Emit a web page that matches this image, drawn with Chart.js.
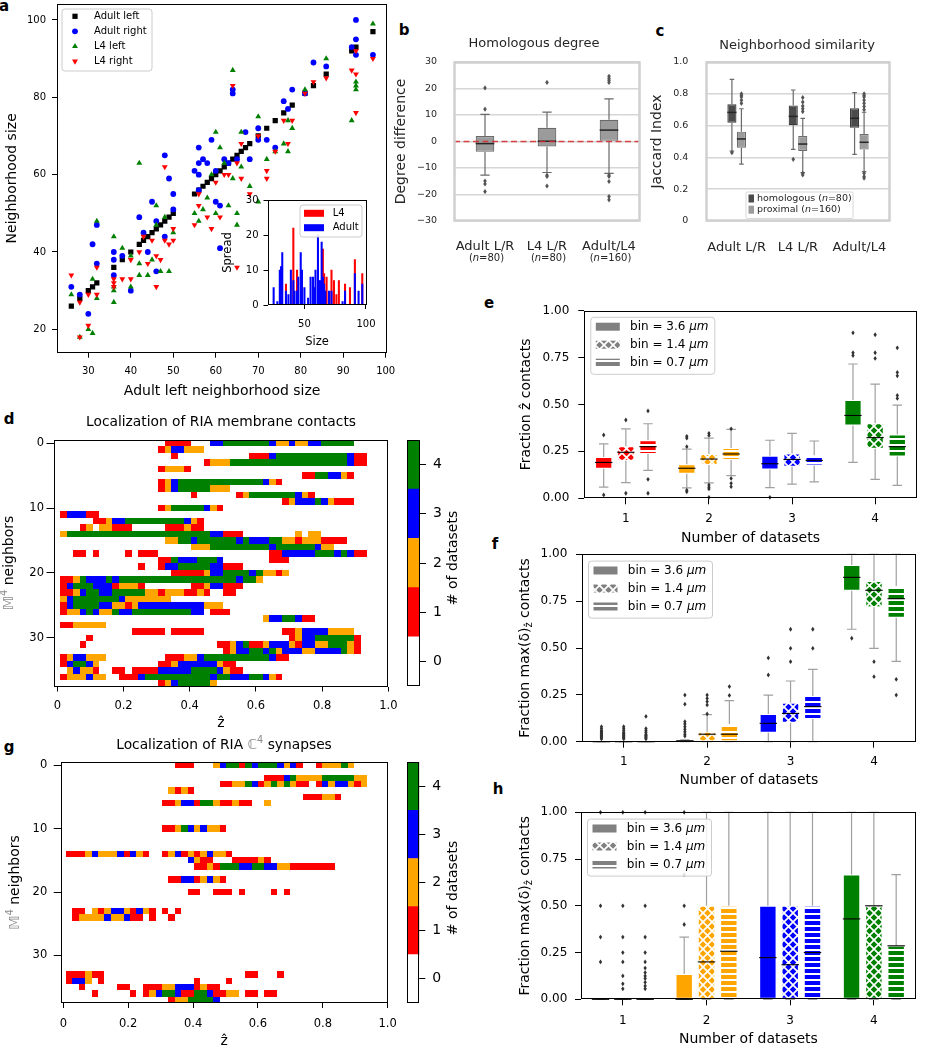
<!DOCTYPE html>
<html>
<head>
<meta charset="utf-8">
<script src="https://cdn.jsdelivr.net/npm/chart.js@4.4.1/dist/chart.umd.min.js"></script>
<style>
  html, body { margin: 0; padding: 0; background: #fff; }
  body { position: relative; width: 928px; height: 1050px; overflow: hidden; }
  canvas { position: absolute; }
  .tag { position: absolute; font: bold 15px "DejaVu Sans", sans-serif; line-height: 15px; transform: translate(-50%, -50%); }
</style>
</head>
<body>
<div class="tag" style="left:4px;top:6px">a</div>
<div class="tag" style="left:404px;top:30px">b</div>
<div class="tag" style="left:660px;top:31px">c</div>
<div class="tag" style="left:9px;top:419px">d</div>
<div class="tag" style="left:489px;top:303px">e</div>
<div class="tag" style="left:495px;top:544px">f</div>
<div class="tag" style="left:9px;top:747px">g</div>
<div class="tag" style="left:498px;top:789px">h</div>
<script>
// ---------- panel a: neighbourhood size ----------
const adultLeftSize = [26,28,30,31,32,36,38,40,42,43,44,45,46,47,48,49,50,55,56,57,58,59,60,61,62,63,64,65,66,67,68,70,72,74,76,78,81,83,86,92,93,97];
// [adult left size, size in other dataset]
const adultRight = [[26,31],[28,29],[30,24],[31,42],[32,47],[32,37],[36,40],[36,38],[36,34],[38,39],[40,30],[42,49],[43,45],[44,40],[45,53],[46,48],[46,35],[48,65],[48,44],[49,59],[50,55],[50,51],[55,61],[56,67],[56,63],[56,60],[56,56],[57,64],[58,63],[59,69],[60,53],[60,61],[61,52],[61,41],[62,64],[63,63],[64,81],[64,82],[65,64],[67,71],[68,64],[70,72],[70,69],[72,69],[74,67],[76,79],[77,77],[78,82],[81,81],[83,89],[86,88],[92,93],[93,100],[93,95],[93,91],[97,91]];
const l4Left = [[26,29],[28,18],[30,20],[31,19],[31,33],[32,48],[32,28],[36,44],[36,31],[36,30],[36,27],[38,41],[40,39],[40,31],[42,63],[42,37],[42,34],[44,34],[45,38],[46,52],[46,47],[47,35],[48,49],[49,35],[50,45],[55,50],[56,48],[57,51],[58,54],[59,60],[60,71],[60,50],[61,67],[62,63],[63,52],[64,87],[64,59],[65,50],[65,47],[66,71],[66,62],[68,57],[70,75],[70,53],[72,64],[74,66],[76,68],[77,66],[77,74],[78,72],[81,82],[86,90],[92,74],[93,84],[93,83],[93,82],[97,99]];
const l4Right = [[26,34],[28,27],[28,18],[30,29],[30,21],[32,36],[32,29],[36,33],[36,32],[36,31],[38,33],[40,38],[40,33],[42,40],[43,44],[44,37],[45,43],[46,39],[46,31],[47,38],[48,62],[48,43],[49,42],[50,46],[50,43],[55,47],[56,55],[56,52],[58,49],[59,46],[60,58],[61,49],[62,60],[63,60],[64,83],[65,63],[65,36],[66,68],[66,59],[68,55],[70,70],[72,61],[72,59],[74,66],[76,74],[77,68],[78,74],[81,81],[83,84],[86,85],[92,87],[93,86],[93,92],[93,76],[97,90]];
// inset: [size, spread]
const spreadL4 = [[35,6],[41,22],[44,10],[65,16],[66,9],[68,8],[72,10],[74,7],[76,3],[78,7],[83,6],[87,5],[91,13],[97,9]];
const spreadAdult = [[25,5],[28,1],[30,10],[31,11],[32,15],[35,4],[37,3],[39,10],[41,7],[42,4],[44,4],[45,8],[47,15],[48,10],[50,5],[53,2],[55,8],[57,8],[58,5],[59,10],[61,20],[62,7],[63,7],[64,18],[65,8],[66,6],[67,4],[70,4],[72,4],[81,1],[83,4],[91,9],[94,4],[97,6]];

// ---------- panels b, c ----------
const pairLabels = ['Adult L/R', 'L4 L/R', 'Adult/L4'];
const pairCounts = ['80', '80', '160'];
// [whisker low, Q1, median, Q3, whisker high]
const degreeDiff = [[-12.7,-3.9,-0.8,2.1,10.2],[-11.7,-1.9,0.1,5.2,11.1],[-12,0,4.3,8.2,16.1]];
const degreeOut = [[20.2,12.2,-14.9,-16,-18.9],[22.3,-12.7,-13.2,-16.8],[24.6,23.8,23.1,22.3,-12.7,-13.2,-15.1,-20.8,-22]];
const jaccardNames = ['homologous', 'proximal'];
const jaccardCounts = ['80', '160'];
const jaccardHom = [[0.44,0.618,0.683,0.734,0.891],[0.451,0.602,0.658,0.727,0.824],[0.419,0.587,0.646,0.709,0.807]];
const jaccardHomOut = [[0.43],[0.388],[]];
const jaccardProx = [[0.358,0.461,0.516,0.562,0.706],[0.304,0.44,0.484,0.535,0.646],[0.31,0.449,0.495,0.547,0.684]];
const jaccardProxOut = [[0.8,0.79,0.78,0.76,0.74],[0.776,0.748,0.723,0.706,0.688,0.3,0.29],[0.8,0.79,0.78,0.76,0.74,0.72,0.7,0.3,0.28,0.27]];

// ---------- panels d, g: heat maps (row = neighbor, "col-col:count") ----------
const zEdge0 = -0.0116, zBin = 0.01974;
const membraneRows = [
  "17-20:1 24-25:3 26-32:4 33:3 34-35:2 36:3 37-38:2 39-40:3 41-45:4",
  "16:1 17:2 18-19:3 20-22:2",
  "18:1 30-32:1 33:3 34-44:4 45:3 46-47:1",
  "23:1 24-26:2 27-44:4 45:3 46-47:1",
  "16:1 17-19:2 20:1",
  "38-39:1 40-41:4 42-43:3 44:2 45:1",
  "16:1 17:2 18:3 19-31:4 32:3 33:2 34:1",
  "16:1 17:2 18:3 19-23:4 24-26:2",
  "21:1 28:1 29:2 30-36:4 37:3 38:2 39:1",
  "35:1 36:2 37-39:3 40:4 41:3 42:2 43-45:1",
  "16:1 17:2 18-22:4 23:3 24:2 25:1",
  "1:1 2-4:3 5-6:1",
  "6-7:1 8:2 9-10:3 11-19:4 20:3 21:2 22:1",
  "4:1 5:2 7-8:2 9-11:1 17-19:1 20:2 21-22:1",
  "1:2 2-23:4 24-25:3 26-28:1 37:2 39-40:2",
  "17-18:2 19-20:4 21:3 22-27:4 28:3 29:4 30-32:3 33-34:4 35-36:2 37:1 38-40:2 41-44:1",
  "21-23:2 24-32:4 33:3 34-39:4 40:3 41-42:2",
  "3-4:1 6:1 11:1 13-15:1 33-34:1 35-39:3 40-42:4 43:3 44:4 45:3 46-47:1",
  "16-17:1 18:4 19-21:3 22-24:4 25:3 33-35:1",
  "13:1 16:1 17-18:3 19-23:4 24-25:3 26-28:1",
  "18-22:1 23:2 24-25:3 26-29:4 30:3 31:4 32-33:2 34:1 35:2",
  "1-2:1 3:2 4:4 5-7:3 8:4 9:3 10-27:4 28:3 29-30:4 31:2",
  "1:1 2:3 3-5:4 6-8:3 9:1 10-12:2 13:1 21-22:1 23:2 24-25:3 26-28:1",
  "1-2:1 3:2 4:3 5-6:4 7-8:3 9-13:4 14-15:2 16:1 17-19:2 20-21:1 22:2 23:1 26-27:1",
  "1:2 2:3 3-9:4 10:3 11-17:2",
  "1:1 2:3 3-6:4 7-8:3 9-10:2 11:1 12:2 13-22:3 23-25:2",
  "1:1 2-3:2 4:3 5:4 6:3 7-8:2 9:4 10-11:3 12-20:4 21-22:3 24-26:1",
  "32:2 33-34:3 35-36:4 37:3 38-39:1",
  "1-2:1 3-7:2",
  "12-16:1 18-22:1 35-36:1 37:2 38-41:3 42-45:2",
  "5:1 36:1 37:2 38-39:3 40-45:4 46:1",
  "4:1 25-26:1 27:2 28:3 29:4 30-31:1 32:2 33-35:3 36:2 37:1 38-39:3 40-41:2 42-44:4 45:2 46:1",
  "26:1 27:2 28-29:3 30-31:4 32:3 33:4 34:2 35-37:3 38-39:2 40-43:3 44:4 45:2 46:1",
  "1:1 2:2 3-4:3 5-7:2 17-19:1 20-21:2 22:3 23-32:4 33:3 34-35:1",
  "1:1 2:3 3-4:4 5:3 6:2 16-17:1 18:2 19-24:3 25:2 26-27:1",
  "2:2 3:3 4-5:2 6:1 9-10:1 12-15:1 16-20:3 21-24:4 25:3 26:2 27-28:1",
  "1:1 2-4:2 5:3 6-7:2 10-12:1 13:3 14-23:4 24:3 25-26:4 27-29:3 30-31:4 32:3 33:2 34:1",
  "16:1 17:2 18:3 19-23:4 24:2"
];
const synapseRows = [
  "18-20:1 24:2 25:3 26-27:4 28:1 29:4 30:3 31-33:4 34:3 35:2 36:3 37:1 40:1 41-43:2 44:4 45:2",
  "",
  "32-34:1 35:3 36:4 37-40:2 41-45:4 46-47:2",
  "25-26:1 27-28:2 29:4 30:3 31:1 32:2 33:4 34:2 35:4 36:2 37-38:1 40:1 41:3 42:2 43-44:3 45:2 46:1 47:2",
  "17:2 18:1 19:2 20:1",
  "38-40:1 41-42:2 43:1",
  "16-17:1 18:2 19-20:3 21:1 22-23:4 24:2 25-26:1 27:2 28-29:1 32:2",
  "", "", "",
  "16-17:1 18:2 19:4 20:3 21:2 22:3 23-24:2 25:1",
  "", "", "",
  "1-3:1 4:2 5:3 6-8:2 9:3 10:1 11:3 12:2 13:1 16:1 17:2 18:3 19:1 20:2 21:1 22:2 23:3 24-25:2 26:1",
  "20:3 21:2 22-23:1 27-30:1 31:2 32:1",
  "21-22:1 23:2 24:1 25-27:4 28-29:3 30-31:4 32-33:3 34-35:2 36-42:1",
  "",
  "17-18:1 19-20:3 21:1 22:2 23:3 24:2 25:1",
  "",
  "20-21:1 24-26:1 28:1 33:1 35:1",
  "", "",
  "2-3:1 5:2 6:1 7:2 8-9:3 10:2 11:1 12:3 13:2 14:1 16:1 18:1",
  "2:1 3-6:2 7:3 8-9:2 10:3 11-12:1 14:1 17:1",
  "", "", "", "", "", "", "", "",
  "1-3:1 4:2 5-6:1 29-30:1 34:1",
  "1:1 2-3:3 4:2 6:1 21:1 26:1",
  "3:1 9-10:1 13-15:1 16-17:2 18-20:3 21:1 22:2 23-24:1",
  "5:1 11:1 13:1 14:2 15:3 16-17:4 18:3 19-20:1 21-22:4 23:3 24-25:1 26-27:2 29-30:1 32-33:1",
  "17:1 18-19:2 20-23:4 24:3"
];
const countColors = ['#ffffff', '#ff0000', '#ffa500', '#0000ff', '#008000'];
const zTicks = [0, 0.2, 0.4, 0.6, 0.8, 1.0];

// ---------- panels e, f, h ----------
const datasetCounts = ['1', '2', '3', '4'];
const binSizes = ['3.6', '1.4', '0.7'];
const eBin36 = [[0.059,0.158,0.191,0.22,0.29],[0.055,0.131,0.16,0.181,0.262],[0.057,0.154,0.184,0.227,0.309],[0.191,0.388,0.441,0.523,0.715]];
const eBin14 = [[0.083,0.2,0.245,0.277,0.37],[0.082,0.177,0.209,0.236,0.32],[0.076,0.168,0.207,0.239,0.346],[0.101,0.264,0.323,0.399,0.608]];
const eBin07 = [[0.149,0.236,0.275,0.309,0.397],[0.121,0.204,0.236,0.268,0.367],[0.087,0.174,0.202,0.229,0.305],[0.069,0.223,0.275,0.34,0.496]];
const eOut36 = [[0.337,0.018],[0.33,0.32,0.275,0.043,0.035],[0.005],[0.881,0.775,0.76]];
const eOut14 = [[0.417,0.027],[0.346,0.335,0.071,0.059,0.05,0.005],[],[0.871,0.775,0.745]];
const eOut07 = [[0.465,0.101,0.027],[0.37,0.106,0.08,0.062],[],[0.801,0.67,0.652,0.548,0.532]];
const fBin36 = [[0,0,0,0,0],[0,0,0.005,0.008,0.01],[0,0.048,0.098,0.148,0.249],[0.6,0.806,0.877,0.943,1]];
const fBin14 = [[0,0,0,0,0],[0,0,0.04,0.053,0.144],[0,0.101,0.151,0.208,0.324],[0.498,0.717,0.808,0.858,1]];
const fBin07 = [[0,0,0,0,0],[0,0,0.04,0.094,0.219],[0,0.121,0.187,0.244,0.386],[0.429,0.662,0.763,0.831,1]];
const fOut36 = [[0.08,0.07,0.06,0.055,0.05,0.045,0.04,0.035,0.03,0.025,0.02,0.015],[0.249,0.2,0.107,0.094,0.08,0.066,0.053,0.04,0.03],[0.447,0.356],[0.552]];
const fOut14 = [[0.08,0.07,0.06,0.05,0.045,0.04,0.035,0.03,0.025,0.02,0.015],[0.249,0.231,0.214,0.196,0.148],[0.6,0.498,0.427],[0.427,0.347]];
const fOut07 = [[0.135,0.07,0.06,0.05,0.04,0.035,0.03,0.025,0.02,0.015],[0.294,0.247],[0.6,0.498],[0.333,0.249]];
const hBin36 = [[0,0,0,0,0],[0,0,0,0.135,0.333],[0,0,0.223,0.5,1],[0,0,0.43,0.667,1]];
const hBin14 = [[0,0,0,0,0],[0,0,0.2,0.5,1],[0,0,0.185,0.5,1],[0,0,0.5,0.5,1]];
const hBin07 = [[0,0,0,0,0],[0,0,0.257,0.5,1],[0,0,0.25,0.5,1],[0,0,0.286,0.286,0.667]];
const hOut36 = [[1,0.5,0.333,0.2],[1,0.667,0.5,0.4],[],[]];
const hOut14 = [[1,0.5,0.333,0.25,0.2,0.125,0.083,0.056],[],[],[]];
const hOut07 = [[1,0.5,0.333,0.25,0.2,0.167,0.143,0.125,0.111,0.091,0.071,0.056],[],[],[]];
const groupColors = ['#ff0000', '#ffa500', '#0000ff', '#008000'];
const hatchKinds = ['solid', 'x', 'line'];

// ---------- setup ----------
const FONT = '"DejaVu Sans", sans-serif';
Chart.defaults.font.family = FONT;
Chart.defaults.color = '#000';
Chart.defaults.animation = false;
Chart.defaults.responsive = false;
Chart.defaults.maintainAspectRatio = false;
Chart.defaults.events = [];
Chart.defaults.plugins.legend.display = false;
Chart.defaults.plugins.tooltip.enabled = false;

function makeCanvas(box) {
  const c = document.createElement('canvas');
  c.width = box[2]; c.height = box[3];
  c.style.left = box[0] + 'px'; c.style.top = box[1] + 'px';
  c.style.width = box[2] + 'px'; c.style.height = box[3] + 'px';
  document.body.appendChild(c);
  return c;
}

// box = canvas [x, y, w, h], area = plot [left, top, right, bottom], page px
function place(box, area, cfg) {
  const o = cfg.options;
  o.layout = { padding: { left: 0, top: area[1] - box[1], right: box[0] + box[2] - area[2], bottom: 0 } };
  o.scales.x.afterFit = s => { s.height = box[1] + box[3] - area[3]; s.paddingLeft = 0; s.paddingRight = 0; };
  o.scales.y.afterFit = s => { s.width = area[0] - box[0]; s.paddingTop = 0; s.paddingBottom = 0; };
  return new Chart(makeCanvas(box), cfg);
}

function axis(o) {
  const ax = {
    type: o.type || 'linear',
    position: o.pos,
    reverse: !!o.reverse,
    ticks: { font: { size: o.fs }, color: o.color || '#000', padding: o.pad, autoSkip: false, maxRotation: 0, minRotation: 0 },
    grid: { display: !o.noGrid, drawOnChartArea: !!o.gridOn, drawTicks: (o.tl || 0) > 0, tickLength: o.tl || 0,
            color: o.gridColor || '#000', lineWidth: o.gridW || 1, offset: false },
    border: { display: false },
    title: { display: false }
  };
  if (o.min !== undefined) ax.min = o.min;
  if (o.max !== undefined) ax.max = o.max;
  if (o.offset !== undefined) ax.offset = o.offset;
  if (o.ticks) ax.afterBuildTicks = s => { s.ticks = o.ticks.map(v => ({ value: v })); };
  if (o.fmt) ax.ticks.callback = o.fmt;
  if (o.title) ax.title = { display: true, text: o.title, color: o.color || '#000', font: { size: o.tfs }, padding: { top: o.tpad, bottom: o.tpad } };
  return ax;
}

// parts: [[text, flags]] flags: i italic, s subscript, p superscript, g gray
function richText(ctx, parts, x, y, size, opt = {}) {
  const fontFor = st => (st.includes('i') ? 'italic ' : '') + ((st.includes('s') || st.includes('p')) ? size * 0.7 : size) + 'px ' + FONT;
  ctx.save();
  ctx.translate(x, y);
  if (opt.rot) ctx.rotate(opt.rot);
  let total = 0;
  for (const [t, st = ''] of parts) { ctx.font = fontFor(st); total += ctx.measureText(t).width; }
  let cx = opt.align === 'left' ? 0 : opt.align === 'right' ? -total : -total / 2;
  ctx.textBaseline = 'middle'; ctx.textAlign = 'left';
  for (const [t, st = ''] of parts) {
    ctx.font = fontFor(st);
    ctx.fillStyle = st.includes('g') ? '#8c8c8c' : (opt.color || '#000');
    const dy = st.includes('s') ? size * 0.3 : st.includes('p') ? -size * 0.35 : 0;
    ctx.fillText(t, cx, dy);
    cx += ctx.measureText(t).width;
  }
  ctx.restore();
}

function textLayer(box, items) {
  return { id: 'texts', afterDraw(chart) {
    items.forEach(it => richText(chart.ctx, it.parts, it.x - box[0], it.y - box[1], it.size, it));
  } };
}

function frameLayer(color, width) {
  return { id: 'frame', afterDatasetsDraw(chart) {
    const { ctx, chartArea: a } = chart;
    const h = width % 2 ? 0.5 : 0;
    const l = Math.round(a.left) + h, t = Math.round(a.top) + h, r = Math.round(a.right) - h, b = Math.round(a.bottom) - h;
    ctx.save(); ctx.strokeStyle = color; ctx.lineWidth = width;
    ctx.strokeRect(l, t, r - l, b - t);
    ctx.restore();
  } };
}

function whiteArea() {
  return { id: 'white', beforeDraw(chart) {
    const { ctx, chartArea: a } = chart;
    ctx.save(); ctx.fillStyle = '#fff'; ctx.fillRect(a.left, a.top, a.right - a.left, a.bottom - a.top); ctx.restore();
  } };
}

function legendFrame(ctx, x, y, w, h, edge, r) {
  ctx.save();
  ctx.beginPath();
  if (ctx.roundRect) ctx.roundRect(x, y, w, h, r); else ctx.rect(x, y, w, h);
  ctx.fillStyle = 'rgba(255,255,255,0.85)'; ctx.fill();
  ctx.strokeStyle = edge; ctx.lineWidth = 1; ctx.stroke();
  ctx.restore();
}

function marker(ctx, style, r, rot, color, x, y) {
  ctx.save(); ctx.fillStyle = color; ctx.beginPath();
  if (style === 'rect') { const s = r * Math.SQRT1_2; ctx.rect(x - s, y - s, 2 * s, 2 * s); }
  else if (style === 'circle') ctx.arc(x, y, r, 0, Math.PI * 2);
  else {
    let a = (rot || 0) * Math.PI / 180;
    for (let k = 0; k < 3; k++) { const px = x + Math.sin(a) * r, py = y - Math.cos(a) * r; k ? ctx.lineTo(px, py) : ctx.moveTo(px, py); a += 2 * Math.PI / 3; }
    ctx.closePath();
  }
  ctx.fill(); ctx.restore();
}

function hatchFill(color, kind) {
  if (kind === 'solid') return color;
  const t = document.createElement('canvas');
  const s = kind === 'x' ? 9 : 6;
  t.width = s; t.height = s;
  const g = t.getContext('2d');
  g.fillStyle = color; g.fillRect(0, 0, s, s);
  g.strokeStyle = '#fff'; g.fillStyle = '#fff';
  if (kind === 'x') {
    g.lineWidth = 1.7;
    g.beginPath(); g.moveTo(-1, -1); g.lineTo(s + 1, s + 1); g.moveTo(s + 1, -1); g.lineTo(-1, s + 1); g.stroke();
  } else {
    g.fillRect(0, 0, s, 2);
  }
  return g.createPattern(t, 'repeat');
}

function boxLayer(stats, outs, st) {
  return { id: 'boxes', afterDatasetsDraw(chart) {
    const ctx = chart.ctx, ys = chart.scales.y;
    const py = v => ys.getPixelForValue(v);
    ctx.save();
    stats.forEach((group, di) => {
      const meta = chart.getDatasetMeta(di);
      group.forEach((s, i) => {
        const el = meta.data[i];
        const cx = el.x, hw = el.width / 2, cw = hw * st.cap;
        ctx.strokeStyle = st.whisker; ctx.lineWidth = st.lw;
        ctx.beginPath();
        ctx.moveTo(cx, py(s[3])); ctx.lineTo(cx, py(s[4]));
        ctx.moveTo(cx, py(s[1])); ctx.lineTo(cx, py(s[0]));
        ctx.moveTo(cx - cw, py(s[4])); ctx.lineTo(cx + cw, py(s[4]));
        ctx.moveTo(cx - cw, py(s[0])); ctx.lineTo(cx + cw, py(s[0]));
        ctx.stroke();
        ctx.strokeStyle = st.median; ctx.lineWidth = st.mw;
        ctx.beginPath(); ctx.moveTo(cx - hw, py(s[2])); ctx.lineTo(cx + hw, py(s[2])); ctx.stroke();
        ctx.fillStyle = st.flier;
        outs[di][i].forEach(v => {
          const y = py(v), r = st.fr;
          ctx.beginPath(); ctx.moveTo(cx, y - r); ctx.lineTo(cx + r * 0.7, y); ctx.lineTo(cx, y + r); ctx.lineTo(cx - r * 0.7, y); ctx.closePath(); ctx.fill();
        });
      });
    });
    ctx.restore();
  } };
}

function parseRow(str) {
  if (!str) return [];
  return str.trim().split(/\s+/).map(tok => {
    const [range, v] = tok.split(':');
    const [a, b] = range.split('-').map(Number);
    return [a, b === undefined ? a : b, Number(v)];
  });
}

function heatLayer(rows) {
  return { id: 'heat', beforeDatasetsDraw(chart) {
    const { ctx, chartArea: a, scales: { x, y } } = chart;
    ctx.save();
    ctx.beginPath(); ctx.rect(a.left, a.top, a.right - a.left, a.bottom - a.top); ctx.clip();
    rows.forEach((row, r) => parseRow(row).forEach(([c0, c1, v]) => {
      const x0 = Math.round(x.getPixelForValue(zEdge0 + c0 * zBin)), x1 = Math.round(x.getPixelForValue(zEdge0 + (c1 + 1) * zBin));
      const y0 = Math.round(y.getPixelForValue(r - 0.5)), y1 = Math.round(y.getPixelForValue(r + 0.5));
      ctx.fillStyle = countColors[v];
      ctx.fillRect(x0, y0, x1 - x0, y1 - y0);
    }));
    ctx.restore();
  } };
}

const seabornStyle = { whisker: '#6a6a6a', lw: 1.2, median: '#262626', mw: 1.5, flier: '#555555', fr: 2.6, cap: 0.5 };
const binStyle = { whisker: '#a0a0a0', lw: 1.2, median: '#000', mw: 1.1, flier: '#333333', fr: 2.4, cap: 0.55 };

// ---------- a: scatter ----------
place([0, 0, 400, 405], [57, 3, 387.3, 352.7], {
  type: 'scatter',
  data: { datasets: [
    { label: 'Adult left', data: adultLeftSize.map(s => ({ x: s, y: s })), pointStyle: 'rect', pointRadius: 3.7, backgroundColor: '#000', borderWidth: 0, order: 4 },
    { label: 'Adult right', data: adultRight.map(([x, y]) => ({ x, y })), pointStyle: 'circle', pointRadius: 2.9, backgroundColor: '#0000ff', borderWidth: 0, order: 3 },
    { label: 'L4 left', data: l4Left.map(([x, y]) => ({ x, y })), pointStyle: 'triangle', pointRadius: 3.4, backgroundColor: '#008000', borderWidth: 0, order: 2 },
    { label: 'L4 right', data: l4Right.map(([x, y]) => ({ x, y })), pointStyle: 'triangle', pointRotation: 180, pointRadius: 3.4, backgroundColor: '#ff0000', borderWidth: 0, order: 1 }
  ] },
  options: { scales: {
    x: axis({ min: 22.63, max: 100.38, ticks: [30,40,50,60,70,80,90,100], fs: 10, tl: 5, pad: 8, pos: 'bottom', title: 'Adult left neighborhood size', tfs: 14, tpad: 4.9 }),
    y: axis({ min: 13.96, max: 104.13, ticks: [20,40,60,80,100], fs: 10, tl: 5, pad: 6, pos: 'left', title: 'Neighborhood size', tfs: 14, tpad: 3.6 })
  } },
  plugins: [frameLayer('#000', 1), { id: 'aLegend', afterDraw(chart) {
    const ctx = chart.ctx, rows = [16.3, 31.3, 46.3, 61.3];
    legendFrame(ctx, 62, 9, 90, 62, '#cccccc', 3);
    chart.data.datasets.forEach((ds, i) => {
      marker(ctx, ds.pointStyle, ds.pointRadius, ds.pointRotation, ds.backgroundColor, 75, rows[i]);
      richText(ctx, [[ds.label]], 94, rows[i], 10, { align: 'left' });
    });
  } }]
});

const insetBox = [221, 195, 165, 155];
place(insetBox, [267.5, 200, 366.7, 305], {
  type: 'bar',
  data: { datasets: [
    { label: 'L4', data: spreadL4.map(([x, y]) => ({ x, y })), backgroundColor: '#ff0000', barThickness: 1.4, grouped: false, order: 1 },
    { label: 'Adult', data: spreadAdult.map(([x, y]) => ({ x, y })), backgroundColor: '#0000ff', barThickness: 1.4, grouped: false, order: 0 }
  ] },
  options: { scales: {
    x: axis({ type: 'linear', min: 20, max: 100.6, offset: false, ticks: [50, 100], fs: 10, tl: 4, pad: 9, pos: 'bottom', title: 'Size', tfs: 11.5, tpad: 0.8 }),
    y: axis({ min: 0, max: 30, ticks: [0, 10, 20, 30], fs: 10, tl: 4, pad: 5, pos: 'left', title: 'Spread', tfs: 11.5, tpad: 0.4 })
  } },
  plugins: [whiteArea(), frameLayer('#000', 1), { id: 'insetLegend', afterDraw(chart) {
    const ctx = chart.ctx, ox = insetBox[0], oy = insetBox[1], rows = [213.3, 227.7];
    legendFrame(ctx, 300 - ox, 205 - oy, 62, 32, '#cccccc', 3);
    chart.data.datasets.forEach((ds, i) => {
      ctx.fillStyle = ds.backgroundColor;
      ctx.fillRect(304 - ox, rows[i] - oy - 3.5, 20, 7);
      richText(ctx, [[ds.label]], 332.7 - ox, rows[i] - oy, 10, { align: 'left' });
    });
  } }]
});

// ---------- b: homologous degree ----------
const signed = v => (v < 0 ? '\u2212' + Math.abs(v) : String(v));
const bBox = [390, 30, 260, 245];
place(bBox, [454, 62, 640, 221], {
  type: 'bar',
  data: { labels: pairLabels, datasets: [{ data: degreeDiff.map(s => [s[1], s[3]]), backgroundColor: '#9b9b9b', borderColor: '#6a6a6a', borderWidth: 1.2, borderSkipped: false, categoryPercentage: 0.3, barPercentage: 1 }] },
  options: { scales: {
    x: axis({ type: 'category', offset: true, noGrid: true, fs: 13, pad: 18, pos: 'bottom', color: '#262626' }),
    y: axis({ min: -30, max: 30, ticks: [-30,-20,-10,0,10,20,30], fmt: signed, fs: 9.5, pad: 17, pos: 'left', gridOn: true, gridColor: '#d6d6d6', gridW: 1.6, color: '#262626', title: 'Degree difference', tfs: 14, tpad: 3.3 })
  } },
  plugins: [
    boxLayer([degreeDiff], [degreeOut], seabornStyle),
    { id: 'zero', afterDatasetsDraw(chart) {
      const { ctx, chartArea: a, scales: { y } } = chart, yy = y.getPixelForValue(0);
      ctx.save(); ctx.strokeStyle = 'rgba(214,39,40,0.85)'; ctx.lineWidth = 1.5; ctx.setLineDash([6, 3.5]);
      ctx.beginPath(); ctx.moveTo(a.left, yy); ctx.lineTo(a.right, yy); ctx.stroke(); ctx.restore();
    } },
    frameLayer('#d0d0d0', 2.5),
    { id: 'counts', afterDraw(chart) {
      const xs = chart.scales.x;
      pairCounts.forEach((n, i) => richText(chart.ctx, [['('], ['n', 'i'], ['=' + n + ')']], xs.getPixelForTick(i) + 1.5, 258.5 - bBox[1], 10, { color: '#262626' }));
    } },
    textLayer(bBox, [{ parts: [['Homologous degree']], x: 534, y: 43.3, size: 13, color: '#262626' }])
  ]
});

// ---------- c: neighborhood similarity ----------
const cBox = [645, 30, 270, 245];
place(cBox, [706, 62, 890, 221], {
  type: 'bar',
  data: { labels: pairLabels, datasets: [
    { data: jaccardHom.map(s => [s[1], s[3]]), backgroundColor: '#4b4b4b', borderColor: '#3a3a3a', borderWidth: 1.2, borderSkipped: false, categoryPercentage: 0.31, barPercentage: 0.96 },
    { data: jaccardProx.map(s => [s[1], s[3]]), backgroundColor: '#9c9c9c', borderColor: '#6e6e6e', borderWidth: 1.2, borderSkipped: false, categoryPercentage: 0.31, barPercentage: 0.96 }
  ] },
  options: { scales: {
    x: axis({ type: 'category', offset: true, noGrid: true, fs: 13, pad: 18.4, pos: 'bottom', color: '#262626' }),
    y: axis({ min: 0, max: 1, ticks: [0, 0.2, 0.4, 0.6, 0.8, 1], fmt: v => (v === 0 ? '0' : v.toFixed(1)), fs: 9.5, pad: 17.7, pos: 'left', gridOn: true, gridColor: '#d6d6d6', gridW: 1.6, color: '#262626', title: 'Jaccard Index', tfs: 14, tpad: 3.9 })
  } },
  plugins: [
    boxLayer([jaccardHom, jaccardProx], [jaccardHomOut, jaccardProxOut], seabornStyle),
    frameLayer('#d0d0d0', 2.5),
    { id: 'jLegend', afterDraw(chart) {
      const ctx = chart.ctx, ox = cBox[0], oy = cBox[1], rows = [198.5, 209.7];
      legendFrame(ctx, 746 - ox, 192 - oy, 107, 26.5, '#d8d8d8', 1);
      chart.data.datasets.forEach((ds, i) => {
        ctx.fillStyle = ds.backgroundColor;
        ctx.fillRect(748.5 - ox, rows[i] - oy - 4, 5.5, 8);
        richText(ctx, [[jaccardNames[i] + ' ('], ['n', 'i'], ['=' + jaccardCounts[i] + ')']], 757 - ox, rows[i] - oy, 9.5, { align: 'left', color: '#262626' });
      });
    } },
    textLayer(cBox, [{ parts: [['Neighborhood similarity']], x: 797, y: 45.7, size: 13, color: '#262626' }])
  ]
});

// ---------- d, g: heat maps with colour bars ----------
function heatChart(box, area, rows, xmin, yl, xpad, xtpad, texts) {
  return place(box, area, {
    type: 'scatter',
    data: { datasets: [{ data: [] }] },
    options: { scales: {
      x: axis({ min: xmin, max: 1, ticks: zTicks, fmt: v => (v === 0 ? '0' : v.toFixed(1)), fs: 11.5, tl: 5, pad: xpad, pos: 'bottom', title: 'ẑ', tfs: 14, tpad: xtpad }),
      y: axis({ min: -0.5, max: 37.5, reverse: true, ticks: [0, 10, 20, 30], fs: 11.5, tl: 7, pad: yl, pos: 'left' })
    } },
    plugins: [heatLayer(rows), frameLayer('#000', 1), textLayer(box, texts)]
  });
}

function colorBar(box, area, titleY) {
  const cfg = {
    type: 'bar',
    data: { labels: [''], datasets: countColors.map((c, v) => ({ data: [[v - 0.5, v + 0.5]], backgroundColor: c, borderWidth: 0, grouped: false, barPercentage: 1, categoryPercentage: 1 })) },
    options: {
      layout: { padding: { left: area[0] - box[0], top: area[1] - box[1], bottom: box[1] + box[3] - area[3], right: 0 } },
      scales: {
        x: { display: false },
        y: Object.assign(axis({ min: -0.5, max: 4.5, ticks: [0, 1, 2, 3, 4], fs: 14, tl: 6, pad: 7, pos: 'right' }),
          { afterFit: s => { s.width = box[0] + box[2] - area[2]; s.paddingTop = 0; s.paddingBottom = 0; } })
      }
    },
    plugins: [frameLayer('#000', 1), textLayer(box, [{ parts: [['# of datasets']], x: 453.3, y: titleY, size: 14, rot: -Math.PI / 2 }])]
  };
  return new Chart(makeCanvas(box), cfg);
}

heatChart([0, 405, 400, 330], [53.5, 440, 388.3, 686.5], membraneRows, -0.0116, 2.5, 8, 3.3, [
  { parts: [['Localization of RIA membrane contacts']], x: 221, y: 422.7, size: 13.8 },
  { parts: [['𝕄', 'g'], ['4', 'pg'], [' neighbors']], x: 9.5, y: 563, size: 14, rot: -Math.PI / 2 }
]);
colorBar([400, 430, 80, 265], [407.3, 440, 420, 686], 558);

heatChart([0, 728, 400, 322], [60.7, 762, 387.7, 1003], synapseRows, -0.008, 6.5, 8.8, 0, [
  { parts: [['Localization of RIA '], ['ℂ', 'g'], ['4', 'pg'], [' synapses']], x: 224, y: 745, size: 13.8 },
  { parts: [['𝕄', 'g'], ['4', 'pg'], [' neighbors']], x: 15, y: 882.5, size: 14, rot: -Math.PI / 2 }
]);
colorBar([400, 752, 80, 260], [407.3, 762.3, 419.3, 1002.7], 888);

// ---------- e, f, h: grouped box plots ----------
function binBoxChart(box, area, stats, outs, o) {
  const datasets = stats.map((st, k) => ({
    data: st.map(s => [s[1], s[3]]),
    backgroundColor: groupColors.map(c => hatchFill(c, hatchKinds[k])),
    borderColor: 'rgba(255,255,255,0.8)', borderWidth: 1, borderSkipped: false,
    categoryPercentage: 0.8, barPercentage: 0.78
  }));
  const legendFills = hatchKinds.map(k => hatchFill('#808080', k));
  const texts = o.richTitle ? [{ parts: o.richTitle, x: 525, y: (area[1] + area[3]) / 2, size: 14, rot: -Math.PI / 2 }] : [];
  return place(box, area, {
    type: 'bar',
    data: { labels: datasetCounts, datasets },
    options: { scales: {
      x: axis({ type: 'category', offset: true, fs: 12, tl: 6, pad: o.xpad, pos: 'bottom', title: 'Number of datasets', tfs: 14, tpad: o.xtpad }),
      y: axis({ min: 0, max: 1, ticks: [0, 0.25, 0.5, 0.75, 1], fmt: v => v.toFixed(2), fs: 12, tl: 6, pad: o.ypad, pos: 'left',
                title: o.title, tfs: 14, tpad: o.ytpad })
    } },
    plugins: [
      boxLayer(stats, outs, binStyle),
      frameLayer('#000', 1),
      { id: 'binLegend', afterDraw(chart) {
        const ctx = chart.ctx, a = chart.chartArea;
        legendFrame(ctx, a.left + 6.5, a.top + 6.8, 124, 57, '#cccccc', 3);
        binSizes.forEach((b, i) => {
          const y = a.top + 16.2 + 18 * i;
          ctx.fillStyle = legendFills[i];
          ctx.fillRect(a.left + 11.5, y - 4, 24, 8);
          richText(ctx, [['bin = ' + b + ' '], ['μm', 'i']], a.left + 45.8, y, 12, { align: 'left' });
        });
      } },
      textLayer(box, texts)
    ]
  });
}

const maxTitle = [['Fraction max(δ)'], ['ẑ', 's'], [' contacts']];
binBoxChart([505, 300, 420, 250], [584.3, 310.5, 916.7, 498.3], [eBin36, eBin14, eBin07], [eOut36, eOut14, eOut07],
  { xpad: 7.3, xtpad: 3.3, ypad: 9, title: 'Fraction ẑ contacts', ytpad: 13.3 });
binBoxChart([505, 545, 420, 245], [582, 554.3, 915.7, 741.7], [fBin36, fBin14, fBin07], [fOut36, fOut14, fOut07],
  { xpad: 7.3, xtpad: 1.6, ypad: 8.7, richTitle: maxTitle });
binBoxChart([505, 805, 420, 245], [581, 812.3, 915.7, 999.3], [hBin36, hBin14, hBin07], [hOut36, hOut14, hOut07],
  { xpad: 8, xtpad: 2.3, ypad: 7.7, richTitle: maxTitle });
</script>
</body>
</html>
